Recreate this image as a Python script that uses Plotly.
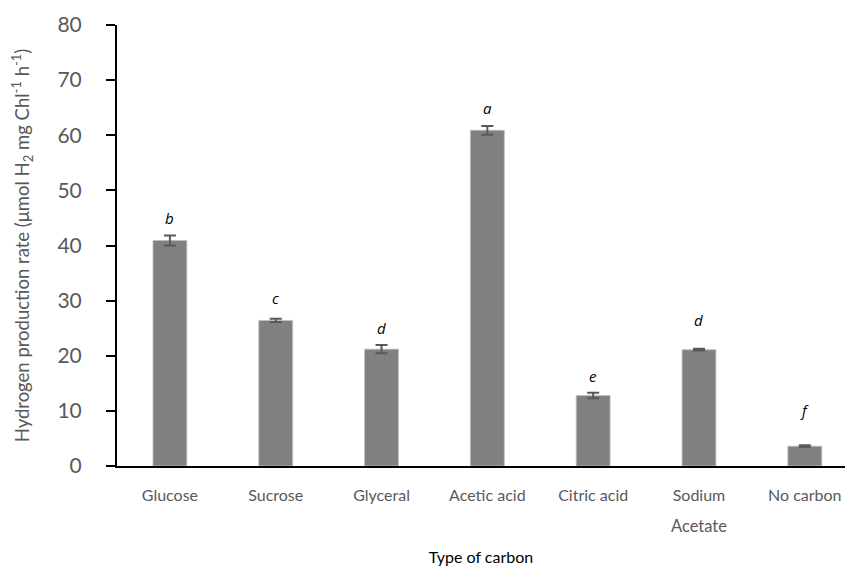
import plotly.graph_objects as go

categories = ["Glucose", "Sucrose", "Glyceral", "Acetic acid", "Citric acid", "Sodium Acetate", "No carbon"]
tick_first_line = ["Glucose", "Sucrose", "Glyceral", "Acetic acid", "Citric acid", "Sodium", "No carbon"]
tick_second_line = ["", "", "", "", "", "Acetate", ""]
rates = [40.9, 26.4, 21.2, 60.9, 12.8, 21.1, 3.6]
errors = [0.9, 0.3, 0.75, 0.8, 0.5, 0.15, 0.15]
letters = ["b", "c", "d", "a", "e", "d", "f"]
letter_y = [45.0, 30.4, 25.0, 65.0, 16.3, 26.4, 10.1]
y_ticks = [0, 10, 20, 30, 40, 50, 60, 70, 80]

x_idx = list(range(len(categories)))

fig = go.Figure()
fig.add_trace(go.Bar(
    x=x_idx, y=rates, width=0.32,
    marker=dict(color="#808080", line=dict(color="#bfbfbf", width=0.8)),
    error_y=dict(type="data", array=errors, visible=True, color="#595959", thickness=2, width=6),
    showlegend=False,
))

annotations = []
for i, (lt, ly) in enumerate(zip(letters, letter_y)):
    annotations.append(dict(x=i, y=ly, xref="x", yref="y", text="<i>" + lt + "</i>",
                            showarrow=False, font=dict(family="Open Sans", size=15, color="#000000")))
for i, t in enumerate(tick_second_line):
    if t:
        annotations.append(dict(x=i, y=0, xref="x", yref="y", text=t, showarrow=False,
                                yanchor="middle", yshift=-60,
                                font=dict(family="Lato", size=16.5, color="#595959")))

# page body adds an 8px offset, so the figure is sized to the visible window minus that
fig.update_layout(
    width=837, height=562,
    margin=dict(l=109, r=0, t=17, b=104),
    paper_bgcolor="white", plot_bgcolor="white",
    annotations=annotations,
    xaxis=dict(
        range=[-0.5, 6.38], automargin=False,
        tickvals=x_idx, ticktext=tick_first_line,
        showline=True, linecolor="black", linewidth=2,
        ticks="", showgrid=False, zeroline=False,
        tickfont=dict(family="Lato", size=16, color="#595959"),
        ticklabelstandoff=14,
        title=dict(text="Type of carbon", font=dict(family="Lato", size=16, color="#000000"), standoff=49),
    ),
    yaxis=dict(
        range=[0, 80], tickvals=y_ticks, automargin=False,
        showline=True, linecolor="black", linewidth=2,
        ticks="outside", ticklen=9, tickwidth=1.5, tickcolor="black",
        showgrid=False, zeroline=False,
        tickfont=dict(family="Lato", size=21, color="#595959"),
        ticklabelstandoff=20,
        title=dict(text="Hydrogen production rate (μmol H<sub>2</sub> mg Chl<sup>-1</sup> h<sup>-1</sup>)",
                   font=dict(family="Lato", size=18.5, color="#595959"), standoff=24),
    ),
)

fig.write_html("out.html")
